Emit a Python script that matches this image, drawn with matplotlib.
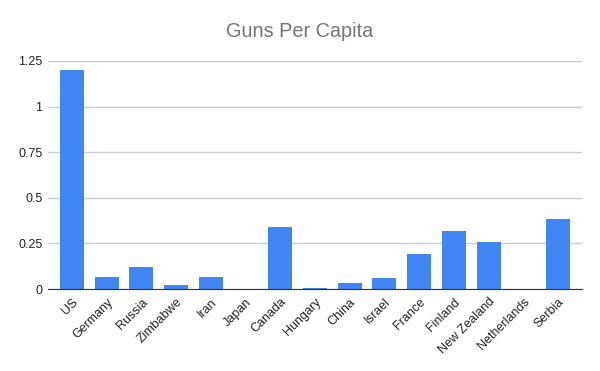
import numpy as np
import matplotlib
matplotlib.use("Agg")
import matplotlib.pyplot as plt

plt.rcParams['font.family'] = ['Liberation Sans', 'DejaVu Sans']

# data
countries = ['US', 'Germany', 'Russia', 'Zimbabwe', 'Iran', 'Japan', 'Canada',
             'Hungary', 'China', 'Israel', 'France', 'Finland', 'New Zealand',
             'Netherlands', 'Serbia']
guns_per_capita = [1.20, 0.066, 0.121, 0.022, 0.066, 0.002, 0.34,
                   0.006, 0.033, 0.06, 0.19, 0.318, 0.258, 0.002, 0.384]
y_ticks = [0, 0.25, 0.5, 0.75, 1, 1.25]
y_tick_labels = ['0', '0.25', '0.5', '0.75', '1', '1.25']

fig = plt.figure(figsize=(6, 3.71), dpi=100)
ax = fig.add_axes([0.08, 0.221, 0.89, 0.6146])

x = np.arange(len(countries))
ax.bar(x, guns_per_capita, width=0.69, color='#4285F4', zorder=3)

ax.set_xlim(-0.69, len(countries) - 1 + 0.69)
ax.set_ylim(0, 1.25)
ax.set_yticks(y_ticks)
ax.set_yticklabels(y_tick_labels)
ax.set_xticks(x)
ax.set_xticklabels(countries, rotation=45, ha='right', rotation_mode='anchor')

ax.grid(axis='y', color='#cccccc', linewidth=1, zorder=0)
for side in ['top', 'right', 'left']:
    ax.spines[side].set_visible(False)
ax.spines['bottom'].set_color('#333333')
ax.spines['bottom'].set_zorder(4)
ax.tick_params(axis='both', length=0, labelsize=9, labelcolor='#222222')
ax.tick_params(axis='y', pad=4)
ax.tick_params(axis='x', pad=5)

fig.text(0.5, 0.915, 'Guns Per Capita', ha='center', va='center',
         fontsize=14.3, color='#757575')

fig.savefig('out.png', dpi=100, facecolor='white')
